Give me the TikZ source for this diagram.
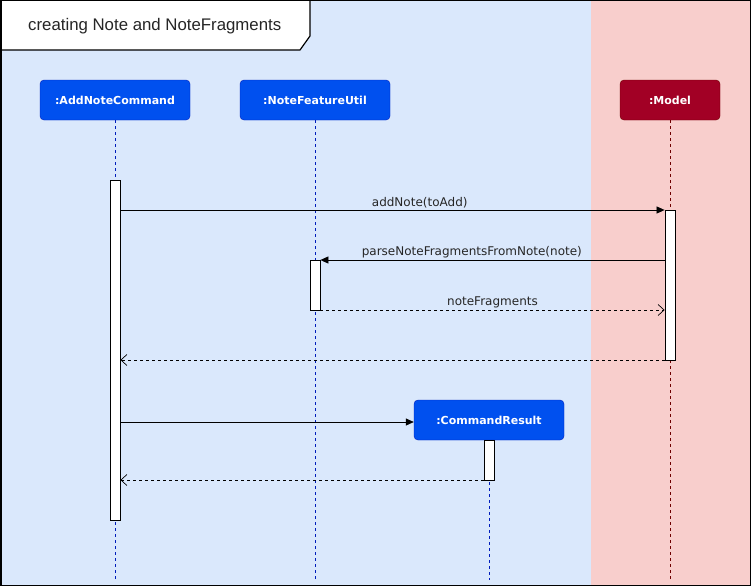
\documentclass[tikz,border=0pt]{standalone}
\usepackage{fontspec}
\setmainfont{DejaVu Sans}
\newfontfamily\titlefont{Liberation Sans}
\usetikzlibrary{arrows.meta}
\definecolor{bgblue}{HTML}{DAE8FC}
\definecolor{bgpink}{HTML}{F8CECC}
\definecolor{hdblue}{HTML}{0050EF}
\definecolor{hdblueline}{HTML}{001DBC}
\definecolor{hdred}{HTML}{A20025}
\definecolor{hdredline}{HTML}{6F0000}
\tikzset{
  hdr/.style={draw=hdblueline, fill=hdblue, rounded corners=4pt, minimum width=150pt, minimum height=40pt, inner sep=0pt, text=white, font=\fontsize{11}{13}\selectfont\bfseries},
  hdrred/.style={hdr, draw=hdredline, fill=hdred, minimum width=100pt},
  actbar/.style={draw=black, fill=white, line width=0.8pt, minimum width=10pt, inner sep=0pt},
  life/.style={draw=hdblueline, dash pattern=on 3pt off 3pt, line width=0.6pt},
  lifered/.style={draw=hdredline, dash pattern=on 3pt off 3pt, line width=0.6pt},
  msg/.style={draw=black, line width=0.7pt, -{Triangle[length=8pt,width=7pt]}},
  ret/.style={draw=black, line width=0.7pt, dash pattern=on 3pt off 3pt, -{Straight Barb[length=6pt,width=11pt,line width=0.7pt]}},
  lbl/.style={font=\fontsize{12}{14}\selectfont, text=black!85, inner sep=1.5pt, anchor=south},
}
\begin{document}
\begin{tikzpicture}[x=1pt,y=-1pt]
\useasboundingbox (0,0) rectangle (751,586);
% backgrounds
\fill[bgblue] (0,0) rectangle (591,586);
\fill[bgpink] (591,0) rectangle (751,586);
% title
\draw[fill=white, line width=1.2pt] (0,0) -- (310,0) -- (310,36) -- (300,50) -- (0,50);
\node[font=\titlefont\fontsize{16.8}{19}\selectfont, text=black!85, anchor=base west, inner sep=0pt] (title) at (28,31) {creating Note and NoteFragments};
% headers
\node[hdr] (anc) at (115,100) {:AddNoteCommand};
\node[hdr] (nfu) at (315,100) {:NoteFeatureUtil};
\node[hdrred] (mdl) at (670,100) {:Model};
\node[hdr] (cr) at (489,420) {:CommandResult};
% lifelines end points
\coordinate (ancEnd) at (115,580);
\coordinate (nfuEnd) at (315,580);
\coordinate (mdlEnd) at (670,580);
\coordinate (crEnd) at (489,580);
\draw[life] (anc.south) -- (ancEnd);
\draw[life] (nfu.south) -- (nfuEnd);
\draw[lifered] (mdl.south) -- (mdlEnd);
\draw[life] (cr.south) -- (crEnd);
% activation bars
\node[actbar, minimum height=340pt] (a1) at (115,350) {};
\node[actbar, minimum height=150pt] (m1) at (670,285) {};
\node[actbar, minimum height=50pt] (n1) at (315,285) {};
\node[actbar, minimum height=40pt] (c1) at (489,460) {};
% messages
\draw[msg] (a1.east |- 0,210) -- node[lbl, pos=0.55] {addNote(toAdd)} (m1.west |- 0,210);
\draw[msg] (m1.west |- 0,260) -- node[lbl, pos=0.56] {parseNoteFragmentsFromNote(note)} (n1.east |- 0,260);
\draw[ret] (n1.east |- 0,310) -- node[lbl, pos=0.50] {noteFragments} (m1.west |- 0,310);
\draw[ret] (m1.west |- 0,360) -- (a1.east |- 0,360);
\draw[msg] (a1.east |- 0,422) -- (cr.west |- 0,422);
\draw[ret] (c1.west |- 0,480) -- (a1.east |- 0,480);
% frame
\draw[line width=1.5pt] (0.75,0.75) rectangle (750.25,585.25);
\end{tikzpicture}
\end{document}
